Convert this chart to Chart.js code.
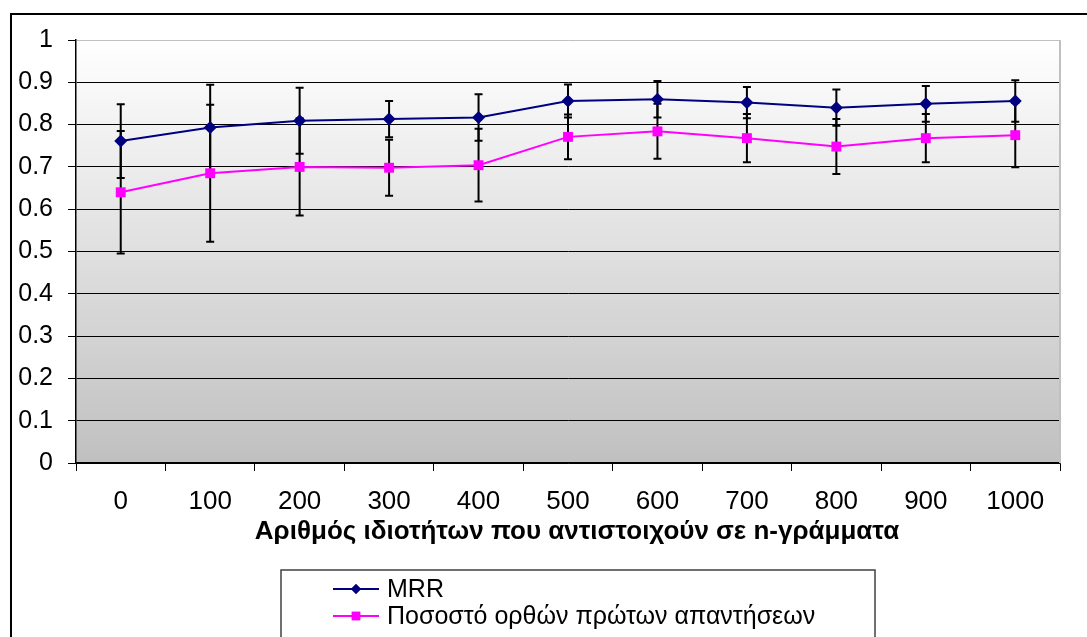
<!DOCTYPE html>
<html>
<head>
<meta charset="utf-8">
<script src="https://cdn.jsdelivr.net/npm/chart.js@4.4.1/dist/chart.umd.min.js"></script>
<style>
  body { margin: 0; background: #fff; }
  #chart { display: block; }
</style>
</head>
<body>
<canvas id="chart" width="1087" height="637"></canvas>
<script>
const labels = ["0", "100", "200", "300", "400", "500", "600", "700", "800", "900", "1000"];

const mrr = [0.761, 0.793, 0.809, 0.813, 0.817, 0.856, 0.86, 0.852, 0.84, 0.849, 0.856];
const mrrErr = [0.087, 0.101, 0.078, 0.043, 0.055, 0.039, 0.043, 0.037, 0.043, 0.042, 0.049];

const correct = [0.64, 0.685, 0.7, 0.698, 0.704, 0.771, 0.784, 0.768, 0.748, 0.768, 0.775];
const correctErr = [0.145, 0.162, 0.115, 0.066, 0.086, 0.053, 0.065, 0.057, 0.065, 0.057, 0.076];

const seriesNames = ["MRR", "Ποσοστό ορθών πρώτων απαντήσεων"];
const axisTitle = "Αριθμός ιδιοτήτων που αντιστοιχούν σε n-γράμματα";

const FONT = "'Liberation Sans', Arial, sans-serif";

// plot background gradient + frame lines
const backgroundPlugin = {
  id: "background",
  beforeDraw(chart) {
    const { ctx, chartArea: a } = chart;
    const g = ctx.createLinearGradient(0, a.top, 0, a.bottom);
    g.addColorStop(0, "#ffffff");
    g.addColorStop(1, "#c0c0c0");
    ctx.save();
    ctx.fillStyle = g;
    ctx.fillRect(a.left, a.top, a.right - a.left, a.bottom - a.top);
    ctx.restore();
  },
  afterDraw(chart) {
    const { ctx, chartArea: a } = chart;
    ctx.save();
    // right border of plot area
    ctx.strokeStyle = "#c0c0c0";
    ctx.lineWidth = 2;
    ctx.beginPath();
    ctx.moveTo(a.right, a.top);
    ctx.lineTo(a.right, a.bottom);
    ctx.stroke();

    // outer chart border
    ctx.strokeStyle = "#000";
    ctx.lineWidth = 2;
    ctx.beginPath();
    ctx.moveTo(11, 640);
    ctx.lineTo(11, 14);
    ctx.lineTo(1090, 14);
    ctx.stroke();

    // axis title
    ctx.fillStyle = "#000";
    ctx.font = "bold 26px " + FONT;
    ctx.textAlign = "center";
    ctx.textBaseline = "middle";
    ctx.fillText(axisTitle, 577, 532);

    // legend
    ctx.strokeStyle = "#404040";
    ctx.lineWidth = 1.5;
    ctx.strokeRect(281, 570, 594, 80);
    const items = [
      { name: seriesNames[0], color: "#000080", style: "rectRot", r: 5, y: 589 },
      { name: seriesNames[1], color: "#ff00ff", style: "rect", r: 6, y: 616 },
    ];
    items.forEach((it) => {
      ctx.strokeStyle = it.color;
      ctx.lineWidth = 2;
      ctx.beginPath();
      ctx.moveTo(333, it.y);
      ctx.lineTo(379, it.y);
      ctx.stroke();
      ctx.fillStyle = it.color;
      Chart.helpers.drawPoint(ctx, { pointStyle: it.style, radius: it.r, borderWidth: 0 }, 356, it.y);
      ctx.fill();
      ctx.fillStyle = "#000";
      ctx.font = "25px " + FONT;
      ctx.textAlign = "left";
      ctx.fillText(it.name, 387, it.y + 1);
    });
    ctx.restore();
  },
};

// error bars drawn under the markers
const errorBarPlugin = {
  id: "errorBars",
  beforeDatasetsDraw(chart) {
    const { ctx } = chart;
    const xs = chart.scales.x;
    const ys = chart.scales.y;
    const sets = [
      [mrr, mrrErr],
      [correct, correctErr],
    ];
    ctx.save();
    ctx.strokeStyle = "#000";
    ctx.lineWidth = 2;
    sets.forEach(([vals, errs]) => {
      vals.forEach((v, i) => {
        const x = xs.getPixelForValue(i);
        const y1 = ys.getPixelForValue(v + errs[i]);
        const y2 = ys.getPixelForValue(v - errs[i]);
        ctx.beginPath();
        ctx.moveTo(x, y1);
        ctx.lineTo(x, y2);
        ctx.moveTo(x - 4, y1);
        ctx.lineTo(x + 4, y1);
        ctx.moveTo(x - 4, y2);
        ctx.lineTo(x + 4, y2);
        ctx.stroke();
      });
    });
    ctx.restore();
  },
};

new Chart(document.getElementById("chart"), {
  type: "line",
  data: {
    labels: labels,
    datasets: [
      {
        label: seriesNames[1],
        data: correct,
        borderColor: "#ff00ff",
        backgroundColor: "#ff00ff",
        borderWidth: 2,
        pointStyle: "rect",
        pointRadius: 7,
        pointBorderWidth: 0,
      },
      {
        label: seriesNames[0],
        data: mrr,
        borderColor: "#000080",
        backgroundColor: "#000080",
        borderWidth: 2,
        pointStyle: "rectRot",
        pointRadius: 6.5,
        pointBorderWidth: 0,
      },
    ],
  },
  options: {
    responsive: false,
    animation: false,
    layout: { padding: { top: 40, right: 27, left: 0, bottom: 0 } },
    plugins: {
      legend: { display: false },
      tooltip: { enabled: false },
    },
    scales: {
      x: {
        offset: true,
        grid: {
          offset: true,
          drawOnChartArea: false,
          drawTicks: true,
          tickLength: 8,
          tickColor: "#000",
        },
        border: { color: "#000", width: 1.5 },
        ticks: {
          color: "#000",
          font: { family: FONT, size: 26 },
          padding: 15,
          maxRotation: 0,
        },
        afterFit(scale) {
          scale.height = 174;
        },
      },
      y: {
        min: 0,
        max: 1,
        grid: {
          color: (c) => (c.tick && c.tick.value === 1 ? "#c0c0c0" : "#000"),
          lineWidth: 1,
          tickLength: 8,
          tickColor: "#000",
        },
        border: { color: "#000", width: 1.5 },
        ticks: {
          stepSize: 0.1,
          color: "#000",
          font: { family: FONT, size: 25 },
          padding: 15,
          callback: (v) => String(Math.round(v * 10) / 10),
        },
        afterFit(scale) {
          scale.width = 76;
        },
      },
    },
  },
  plugins: [backgroundPlugin, errorBarPlugin],
});
</script>
</body>
</html>
